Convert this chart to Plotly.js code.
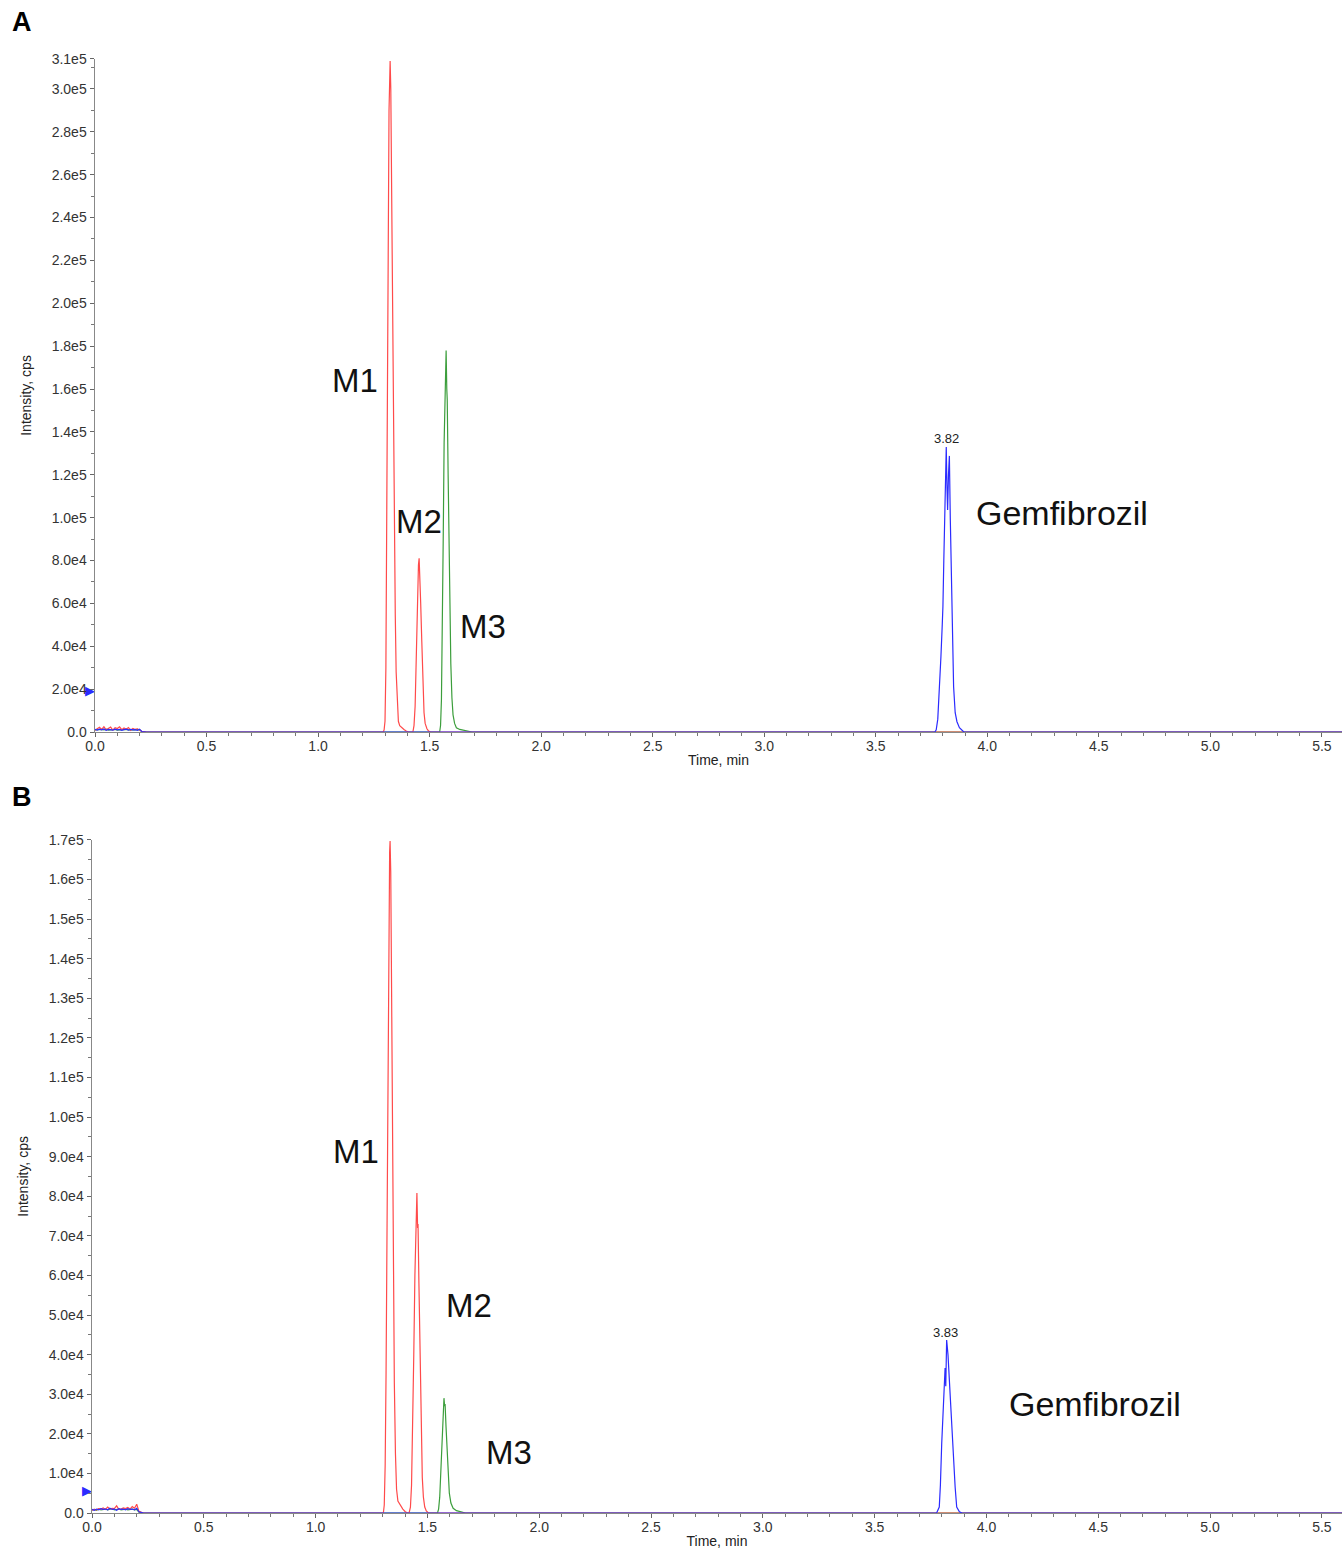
<!DOCTYPE html>
<html>
<head>
<meta charset="utf-8">
<script src="https://cdn.plot.ly/plotly-3.0.1.min.js"></script>
<style>html,body{margin:0;padding:0;background:#fff;}#chart{width:1342px;height:1550px;}</style>
</head>
<body>
<div id="chart"></div>
<script>
// ---------- DATA ----------
// Early noise region (time, min)
const noiseT = [0.00,0.01,0.02,0.03,0.04,0.05,0.06,0.07,0.08,0.09,0.10,0.11,0.12,0.13,0.14,0.15,0.16,0.17,0.18,0.19,0.20,0.21];
const noiseRedA   = [800,1500,2200,1200,2500,1000,1800,2300,900,2000,1600,2400,1100,1900,1300,2100,800,1700,1200,1500,900,300];
const noiseGreenA = [1000,1100,900,1200,1000,1300,900,1100,1000,1200,900,1000,1100,900,1200,1000,900,1100,1000,1200,900,200];
const noiseBlueA  = [1200,900,1300,1000,1400,800,1200,1100,900,1300,1000,1200,800,1100,1300,900,1200,1000,1100,800,1300,200];
const noiseRedB   = [700,900,800,1100,1000,1300,900,1500,1000,1200,1100,1800,900,1000,1300,1100,1400,1000,1600,1200,2200,400];
const noiseGreenB = [800,900,700,1000,800,900,1000,800,900,1100,800,900,1000,800,900,1000,800,900,1000,800,900,200];
const noiseBlueB  = [900,700,1000,800,1100,900,1000,800,1200,900,1000,700,1100,900,1000,800,1100,900,1000,800,1200,300];

// Baseline points after noise
const baseT = [0.23, 5.59];
const baseY = [0, 0];

// Panel A peaks
const m1A_t = [1.292,1.296,1.300,1.304,1.307,1.310,1.314,1.318,1.323,1.326,1.330,1.334,1.338,1.342,1.346,1.350,1.355,1.360,1.366,1.375,1.385,1.395,1.405];
const m1A_y = [0,1000,5000,30000,80000,150000,230000,290000,313000,300000,250000,195000,145000,95000,55000,28000,12000,5000,3000,2000,1200,500,0];
const m2A_t = [1.425,1.430,1.435,1.440,1.445,1.450,1.453,1.456,1.460,1.465,1.470,1.475,1.480,1.488,1.495,1.505];
const m2A_y = [0,3000,12000,38000,62000,78000,81000,74000,60000,42000,22000,9000,4000,1500,500,0];
const m3A_t = [1.545,1.549,1.553,1.557,1.561,1.565,1.569,1.572,1.574,1.577,1.579,1.583,1.587,1.591,1.595,1.600,1.605,1.612,1.620,1.635,1.650,1.670,1.690];
const m3A_y = [0,3000,15000,45000,90000,135000,165000,176000,178000,160000,155000,120000,85000,55000,32000,16000,8000,4000,2000,1200,800,400,0];
const gemA_t = [3.765,3.771,3.778,3.785,3.792,3.798,3.801,3.805,3.810,3.814,3.816,3.819,3.822,3.826,3.830,3.834,3.838,3.843,3.849,3.856,3.864,3.875,3.887,3.895];
const gemA_y = [0,1000,6000,18000,35000,50000,58500,80000,105000,125000,133000,115000,103600,120000,128800,100000,75000,48000,21000,9000,4800,2000,500,0];

// Panel B peaks
const m1B_t = [1.303,1.307,1.311,1.315,1.319,1.323,1.327,1.331,1.333,1.336,1.340,1.344,1.348,1.352,1.357,1.362,1.368,1.378,1.390,1.400,1.410];
const m1B_y = [0,2000,12000,35000,70000,115000,150000,167000,169700,162000,130000,90000,58000,33000,15000,6000,3000,2000,1000,400,0];
const m2B_t = [1.418,1.424,1.429,1.434,1.439,1.444,1.449,1.453,1.456,1.458,1.462,1.467,1.472,1.477,1.482,1.488,1.495,1.505];
const m2B_y = [0,1500,7000,20000,40000,60000,75000,80800,72000,73000,58000,38000,20000,9000,4000,1500,500,0];
const m3B_t = [1.545,1.550,1.555,1.560,1.565,1.570,1.574,1.577,1.579,1.583,1.588,1.593,1.598,1.605,1.615,1.630,1.650,1.670];
const m3B_y = [0,1000,4000,10000,18000,25000,29000,27000,27500,22000,15000,9000,5000,2500,1200,600,300,0];
const gemB_t = [3.770,3.777,3.789,3.794,3.800,3.806,3.810,3.815,3.818,3.822,3.828,3.836,3.845,3.850,3.855,3.860,3.867,3.879,3.891];
const gemB_y = [0,0,1500,7000,17700,26000,32000,36600,32000,43700,40000,31000,22700,17000,12000,6500,1500,300,0];

// Marker triangles at the left edge (threshold markers)
const markerA_t = [0], markerA_y = [18700];
const markerB_t = [0], markerB_y = [5300];

// Axis ticks
const yTickValsA = [0,20000,40000,60000,80000,100000,120000,140000,160000,180000,200000,220000,240000,260000,280000,300000,314000];
const yTickTextA = ['0.0','2.0e4','4.0e4','6.0e4','8.0e4','1.0e5','1.2e5','1.4e5','1.6e5','1.8e5','2.0e5','2.2e5','2.4e5','2.6e5','2.8e5','3.0e5','3.1e5'];
const yTickValsB = [0,10000,20000,30000,40000,50000,60000,70000,80000,90000,100000,110000,120000,130000,140000,150000,160000,170000];
const yTickTextB = ['0.0','1.0e4','2.0e4','3.0e4','4.0e4','5.0e4','6.0e4','7.0e4','8.0e4','9.0e4','1.0e5','1.1e5','1.2e5','1.3e5','1.4e5','1.5e5','1.6e5','1.7e5'];
const xMax = 5.59;

// Labels
const labelsA = [
  {text:'M1', t:1.166, y:163800},
  {text:'M2', t:1.453, y:98400},
  {text:'M3', t:1.740, y:49000},
  {text:'Gemfibrozil', t:4.336, y:102000}
];
const rtA = {text:'3.82', t:3.816, y:136700};
const labelsB = [
  {text:'M1', t:1.181, y:91200},
  {text:'M2', t:1.686, y:52500},
  {text:'M3', t:1.865, y:15400},
  {text:'Gemfibrozil', t:4.486, y:27500}
];
const rtB = {text:'3.83', t:3.819, y:45700};

// ---------- BUILD ----------
const FONT = 'Liberation Sans, Arial, Helvetica, sans-serif';
const RED = '#ff4a4a', GREEN = '#3c9e3c', BLUE = '#2b2bff';

function series(nT, nY, peaks) {
  let t = nT.slice(), y = nY.slice();
  t.push(baseT[0]); y.push(baseY[0]);
  peaks.forEach(p => { t = t.concat(p[0]); y = y.concat(p[1]); });
  t.push(baseT[1]); y.push(baseY[1]);
  return {t, y};
}
function trace(s, color, xa, ya) {
  return {x: s.t, y: s.y, type: 'scatter', mode: 'lines', xaxis: xa, yaxis: ya,
          line: {color: color, width: 1.2}, hoverinfo: 'skip', showlegend: false};
}
function markerTrace(t, y, xa, ya) {
  return {x: t, y: y, xaxis: xa, yaxis: ya, type: 'scatter', mode: 'text', text: ['\u25B6'],
    textposition: 'middle left', cliponaxis: false,
    textfont: {family: 'DejaVu Sans', size: 13, color: BLUE}, showlegend: false, hoverinfo: 'skip'};
}

const data = [
  trace(series(noiseT, noiseGreenA, [[m3A_t, m3A_y]]), GREEN, 'x', 'y'),
  trace(series(noiseT, noiseRedA, [[m1A_t, m1A_y], [m2A_t, m2A_y]]), RED, 'x', 'y'),
  trace(series(noiseT, noiseBlueA, [[gemA_t, gemA_y]]), BLUE, 'x', 'y'),
  trace(series(noiseT, noiseGreenB, [[m3B_t, m3B_y]]), GREEN, 'x2', 'y2'),
  trace(series(noiseT, noiseRedB, [[m1B_t, m1B_y], [m2B_t, m2B_y]]), RED, 'x2', 'y2'),
  trace(series(noiseT, noiseBlueB, [[gemB_t, gemB_y]]), BLUE, 'x2', 'y2'),
  markerTrace(markerA_t, markerA_y, 'x', 'y'),
  markerTrace(markerB_t, markerB_y, 'x2', 'y2')
];

const tickFont = {family: FONT, size: 14, color: '#333'};
function xAxis(domain, anchor) {
  return {domain: domain, anchor: anchor, range: [0, xMax], tick0: 0, dtick: 0.5, tickformat: '.1f',
    ticks: 'outside', ticklen: 4, tickcolor: '#666', tickwidth: 1, ticklabelstandoff: -3,
    minor: {ticks: 'outside', tickmode: 'linear', tick0: 0, dtick: 0.1, ticklen: 3, tickcolor: '#777'},
    showline: true, linecolor: '#888', linewidth: 1, showgrid: false, zeroline: false,
    tickfont: tickFont,
    title: {text: 'Time, min', font: {family: FONT, size: 14, color: '#222'}, standoff: 2}};
}
function yAxis(domain, anchor, range, vals, text, minorDt, standoff) {
  return {domain: domain, anchor: anchor, range: range, tickmode: 'array', tickvals: vals, ticktext: text,
    ticks: 'outside', ticklen: 4, tickcolor: '#666', tickwidth: 1,
    minor: {ticks: 'outside', tickmode: 'linear', tick0: 0, dtick: minorDt, ticklen: 3, tickcolor: '#777'},
    showline: true, linecolor: '#888', linewidth: 1.5, showgrid: false, zeroline: false,
    tickfont: tickFont,
    title: {text: 'Intensity, cps', font: {family: FONT, size: 14, color: '#222'}, standoff: standoff}};
}

const annotations = [];
function addLabels(list, rt, xr, yr) {
  list.forEach(l => annotations.push({x: l.t, y: l.y, xref: xr, yref: yr, text: l.text, showarrow: false,
    xanchor: 'center', yanchor: 'middle',
    font: {family: FONT, size: l.text.length > 3 ? 34 : 33, color: '#111'}}));
  annotations.push({x: rt.t, y: rt.y, xref: xr, yref: yr, text: rt.text, showarrow: false,
    xanchor: 'center', yanchor: 'middle', font: {family: FONT, size: 13, color: '#222'}});
}
addLabels(labelsA, rtA, 'x', 'y');
addLabels(labelsB, rtB, 'x2', 'y2');
annotations.push({x: 22/1342, y: 1 - 22/1550, xref: 'paper', yref: 'paper', text: '<b>A</b>', showarrow: false,
  xanchor: 'center', yanchor: 'middle', font: {family: FONT, size: 27, color: '#000'}});
annotations.push({x: 22/1342, y: 1 - 797/1550, xref: 'paper', yref: 'paper', text: '<b>B</b>', showarrow: false,
  xanchor: 'center', yanchor: 'middle', font: {family: FONT, size: 27, color: '#000'}});

const layout = {
  width: 1342, height: 1550,
  margin: {l: 0, r: 0, t: 0, b: 0, pad: 0},
  paper_bgcolor: '#fff', plot_bgcolor: '#fff',
  showlegend: false,
  font: {family: FONT},
  xaxis: xAxis([95/1342, 1], 'y'),
  yaxis: yAxis([818/1550, 1491.1/1550], 'x', [0, 314000], yTickValsA, yTickTextA, 10000, 16),
  xaxis2: xAxis([92/1342, 1], 'y2'),
  yaxis2: yAxis([37/1550, 710.2/1550], 'x2', [0, 170000], yTickValsB, yTickTextB, 5000, 16),
  annotations: annotations
};

Plotly.newPlot('chart', data, layout, {displayModeBar: false, staticPlot: true});
</script>
</body>
</html>
